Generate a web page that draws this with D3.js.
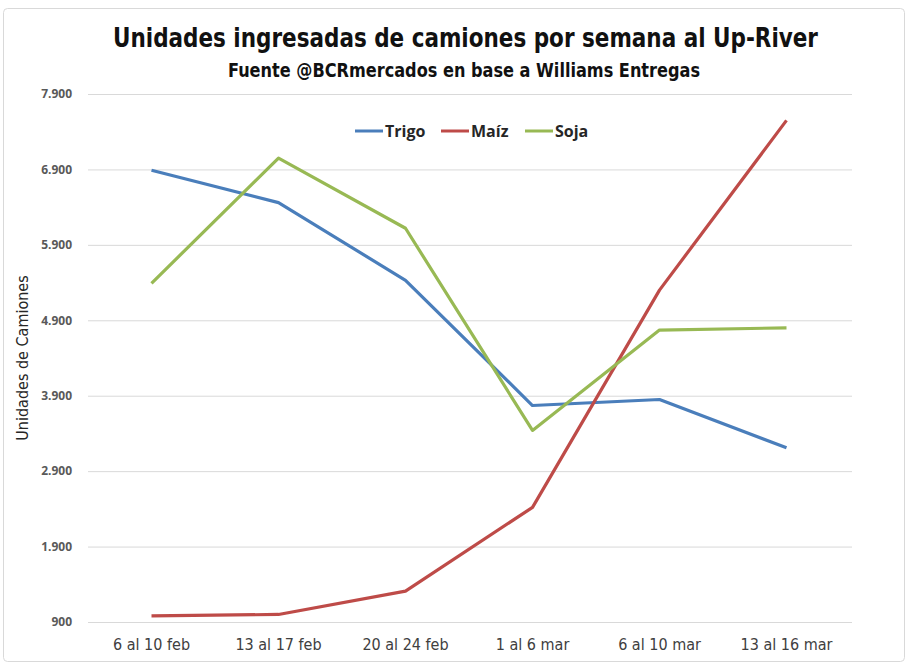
<html>
<script src="https://d3js.org/d3.v7.min.js"></script>
<style>
body { margin: 0; background: #fff; }
text { font-family: "DejaVu Sans", sans-serif; font-stretch: condensed; }
</style>
<body>
<svg width="909" height="666"></svg>
<script>
// data
var weeks = ["6 al 10 feb", "13 al 17  feb", "20 al 24 feb", "1 al 6 mar", "6 al 10 mar", "13 al 16 mar"];
var trigo = [6890, 6460, 5430, 3770, 3850, 3210];
var maiz = [980, 1000, 1310, 2420, 5300, 7550];
var soja = [5390, 7050, 6120, 3440, 4770, 4800];
var yTicks = [900, 1900, 2900, 3900, 4900, 5900, 6900, 7900];
var seriesNames = ["Trigo", "Maíz", "Soja"];
var seriesColors = ["#4a7ebb", "#be4b48", "#98b954"];

var series = [trigo, maiz, soja];
var svg = d3.select("svg");

// frame
svg.append("rect")
  .attr("x", 3.5).attr("y", 8.5).attr("width", 901).attr("height", 653)
  .attr("rx", 4)
  .style("fill", "white").style("stroke", "#d9d9d9");

var xs = d3.scaleBand().domain(weeks).range([88, 850]);
var ys = d3.scaleLinear().domain([900, 7900]).range([622, 94]);

// gridlines
svg.append("g").selectAll("line").data(yTicks).enter().append("line")
  .attr("x1", 88).attr("x2", 852)
  .attr("y1", function(d) { return ys(d) + 0.5; })
  .attr("y2", function(d) { return ys(d) + 0.5; })
  .style("stroke", "#d9d9d9").style("stroke-width", 1);

// y axis
var yAxis = svg.append("g").attr("transform", "translate(88,0)")
  .call(d3.axisLeft(ys).tickValues(yTicks).tickSize(0).tickPadding(16)
    .tickFormat(function(d) { return d3.format(",")(d).replace(/,/g, "."); }));
yAxis.select(".domain").remove();
yAxis.selectAll("text")
  .style("font-family", "'Open Sans', sans-serif").style("font-stretch", "normal")
  .style("font-size", "12px").style("font-weight", "bold").style("fill", "#595959");

// x axis
var xAxis = svg.append("g").attr("transform", "translate(0,622)")
  .call(d3.axisBottom(xs).tickSize(0).tickPadding(17));
xAxis.select(".domain").remove();
xAxis.selectAll("text")
  .style("font-size", "16px").style("fill", "#404040");

// lines
var line = d3.line()
  .x(function(d, i) { return xs(weeks[i]) + xs.bandwidth() / 2; })
  .y(function(d) { return ys(d); });

svg.append("g").selectAll("path").data(series).enter().append("path")
  .attr("d", line)
  .style("fill", "none")
  .style("stroke", function(d, i) { return seriesColors[i]; })
  .style("stroke-width", 3.2)
  .style("stroke-linejoin", "round");

// legend
var legendX = [355, 441, 525];
var leg = svg.append("g").selectAll("g").data(seriesNames).enter().append("g")
  .attr("transform", function(d, i) { return "translate(" + legendX[i] + ",131)"; });
leg.append("line")
  .attr("x1", 0).attr("x2", 28).attr("y1", 0).attr("y2", 0)
  .style("stroke", function(d, i) { return seriesColors[i]; })
  .style("stroke-width", 3);
leg.append("text")
  .attr("x", 30).attr("y", 6)
  .style("font-family", "'Open Sans', sans-serif").style("font-stretch", "normal")
  .style("font-size", "16px").style("font-weight", "bold").style("fill", "#262626")
  .text(function(d) { return d; });

// titles
svg.append("text")
  .attr("x", 113).attr("y", 47)
  .attr("textLength", 705).attr("lengthAdjust", "spacingAndGlyphs")
  .style("font-size", "27px").style("font-weight", "bold").style("fill", "#111")
  .text("Unidades ingresadas de camiones por semana al Up-River");

svg.append("text")
  .attr("x", 228).attr("y", 77)
  .attr("textLength", 472).attr("lengthAdjust", "spacingAndGlyphs")
  .style("font-size", "19px").style("font-weight", "bold").style("fill", "#111")
  .text("Fuente @BCRmercados en base a Williams Entregas");

svg.append("text")
  .attr("transform", "translate(28,358) rotate(-90)")
  .style("text-anchor", "middle")
  .style("font-size", "16px").style("fill", "#262626")
  .text("Unidades de Camiones");
</script>
</body>
</html>
